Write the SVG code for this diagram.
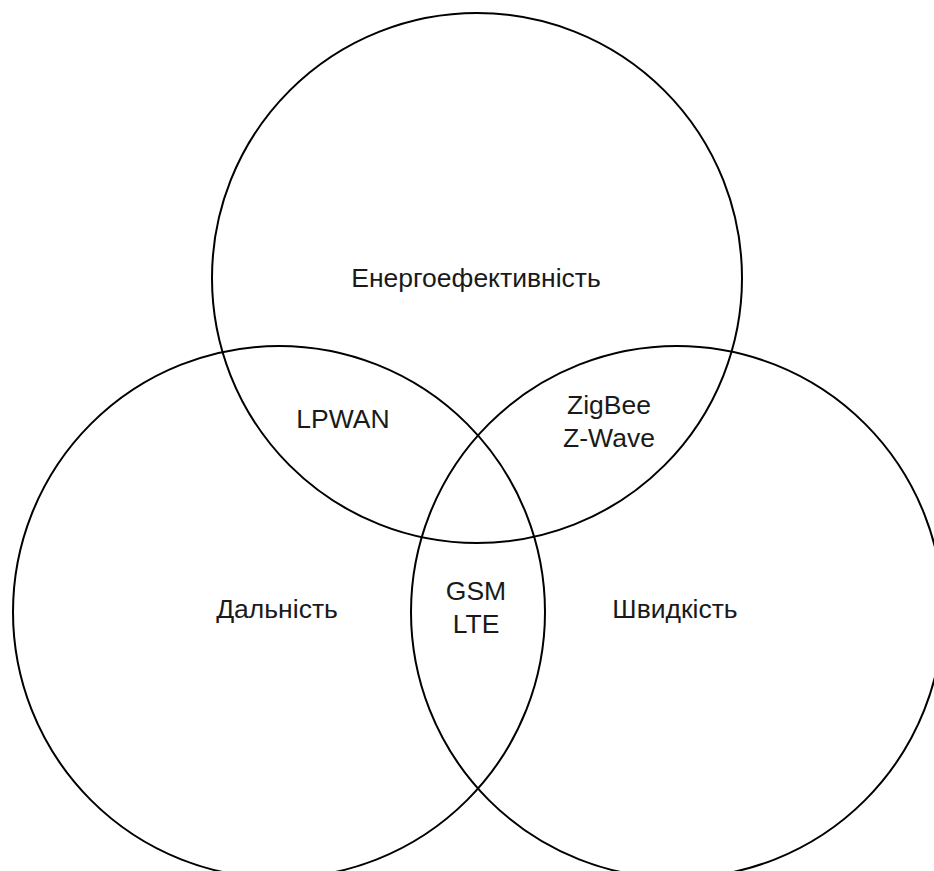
<svg xmlns="http://www.w3.org/2000/svg" width="934" height="871" viewBox="0 0 934 871">
  <style>
    .set { fill: none; stroke: #000000; stroke-width: 2; }
    .lbl { font-family: "Liberation Sans", Arial, sans-serif; font-size: 26.5px; fill: #1a1a1a; text-anchor: middle; }
  </style>
  <rect width="934" height="871" fill="#ffffff"/>
  <g id="circles">
    <g id="energy">
      <circle class="set" cx="477" cy="278" r="265"/>
    </g>
    <g id="range">
      <circle class="set" cx="279" cy="612" r="266"/>
    </g>
    <g id="speed">
      <circle class="set" cx="677" cy="612" r="266"/>
    </g>
  </g>
  <g id="labels">
    <g id="label-energy"><text class="lbl" x="476" y="287">Енергоефективність</text></g>
    <g id="label-lpwan"><text class="lbl" x="343" y="428">LPWAN</text></g>
    <g id="label-zigbee"><text class="lbl" x="609" y="414">ZigBee</text><text class="lbl" x="609" y="447">Z-Wave</text></g>
    <g id="label-gsm"><text class="lbl" x="476" y="600">GSM</text><text class="lbl" x="476" y="633">LTE</text></g>
    <g id="label-range"><text class="lbl" x="277" y="618">Дальність</text></g>
    <g id="label-speed"><text class="lbl" x="675" y="618">Швидкість</text></g>
  </g>
</svg>
